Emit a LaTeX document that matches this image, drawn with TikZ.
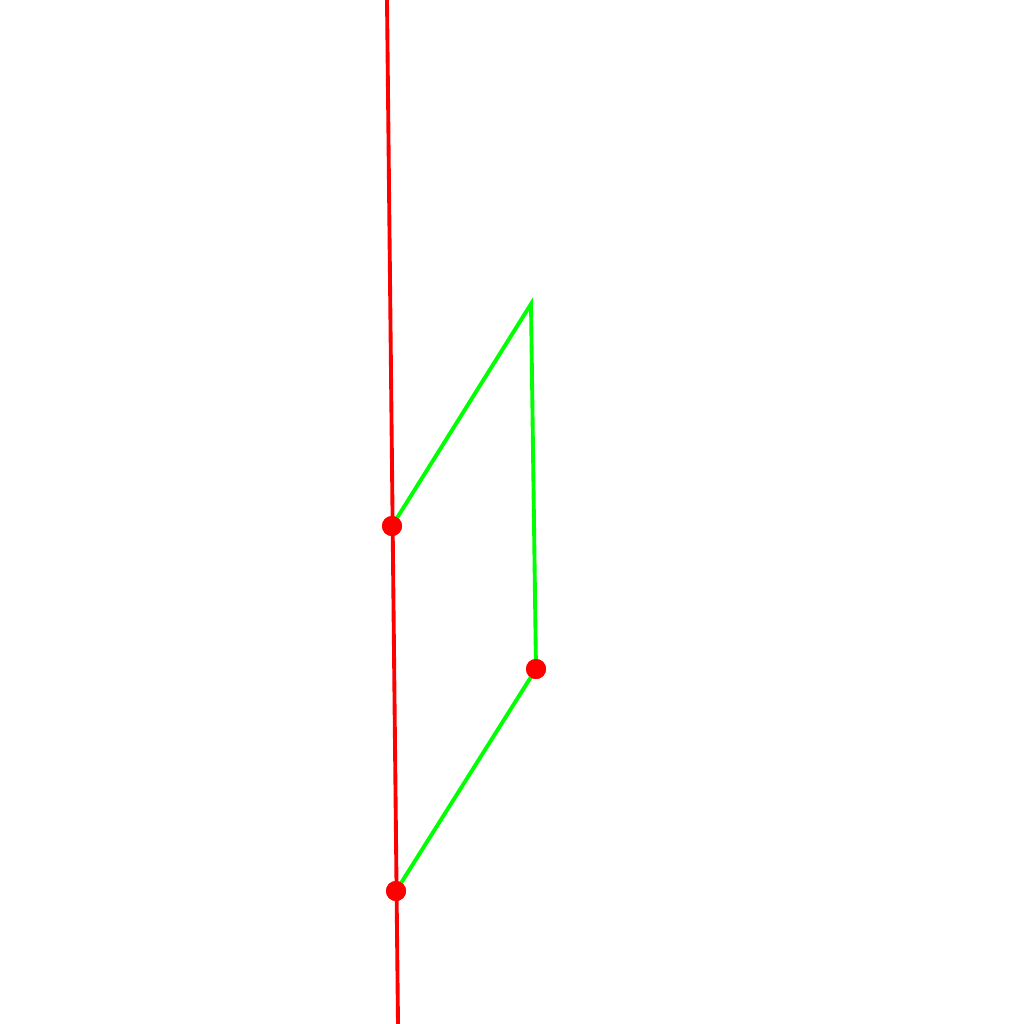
\documentclass[tikz,border=0pt]{standalone}
\begin{document}
\begin{tikzpicture}[x=0.01cm,y=-0.01cm,
  redline/.style={draw=red,line width=1.1pt},
  greenline/.style={draw=green,line width=1.1pt},
  dot/.style={circle,fill=red,inner sep=0pt,minimum size=0.2cm}]
\useasboundingbox[fill=white] (0,0) rectangle (1024,1024);
\coordinate (top) at (387,0);
\coordinate (bot) at (398,1024);
\coordinate (apex) at (531,304);
\node[dot] (p1) at (392,526) {};
\node[dot] (p2) at (536,669) {};
\node[dot] (p3) at (396,891) {};
\draw[redline] (top) -- (bot);
\draw[greenline] (p1.center) -- (apex) -- (p2.center) -- (p3.center);
\node[dot] at (p1) {};
\node[dot] at (p2) {};
\node[dot] at (p3) {};
\end{tikzpicture}
\end{document}
